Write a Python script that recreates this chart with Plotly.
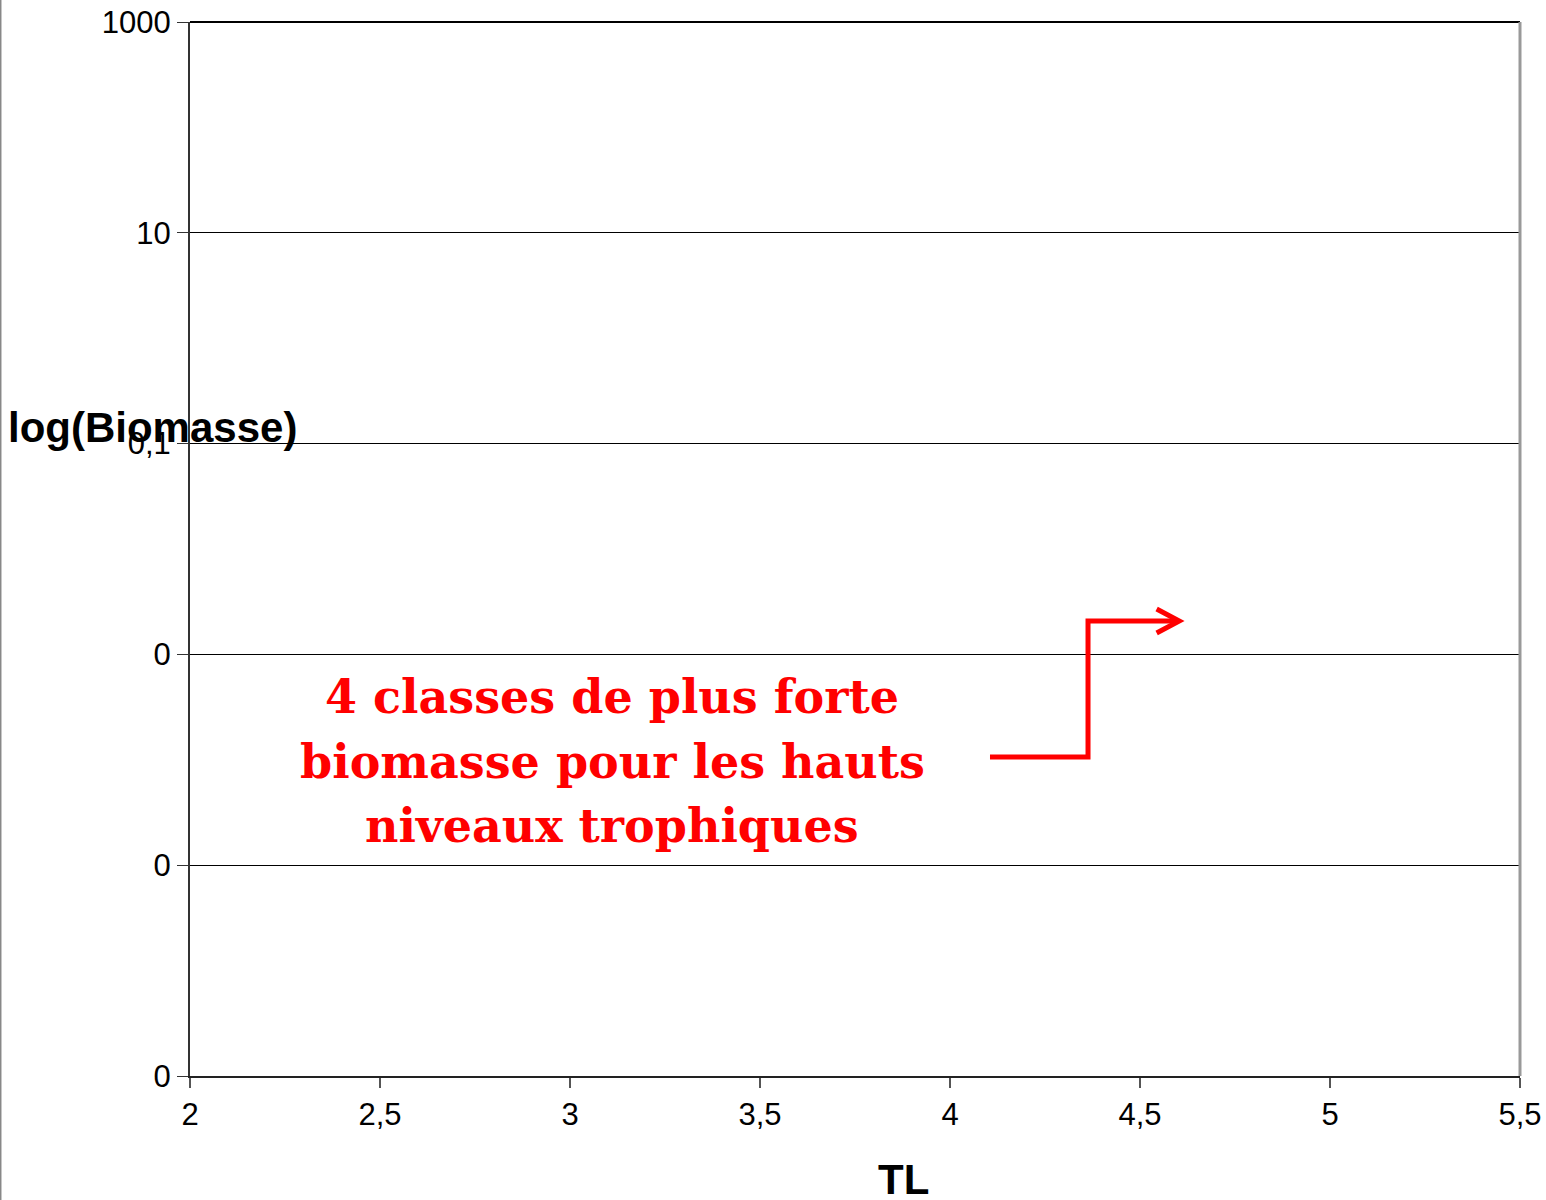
import plotly.graph_objects as go

# Axis ticks (trophic level on x, biomass on a log y axis)
x_tickvals = [2, 2.5, 3, 3.5, 4, 4.5, 5, 5.5]
x_ticktext = ["2", "2,5", "3", "3,5", "4", "4,5", "5", "5,5"]
y_tickvals = [1e3, 1e1, 1e-1, 1e-3, 1e-5, 1e-7]
y_ticktext = ["1000", "10", "0,1", "0", "0", "0"]

x_title = "TL"
y_title = "log(Biomasse)"
note_lines = ["4 classes de plus forte", "biomasse pour les hauts", "niveaux trophiques"]
note_line_y = [0.3596, 0.2982, 0.2372]

RED = "#FF0000"
TICK_FONT = dict(family="Liberation Sans, Arial, sans-serif", size=31, color="#000000")
TITLE_FONT = dict(family="Liberation Sans, Arial, sans-serif", size=42, color="#000000")

fig = go.Figure()
fig.add_trace(go.Scatter(x=[], y=[], mode="markers", showlegend=False, hoverinfo="skip"))

fig.update_layout(
    width=1546,
    height=1200,
    margin=dict(l=190, r=26, t=22, b=124),
    paper_bgcolor="#FFFFFF",
    plot_bgcolor="#FFFFFF",
    showlegend=False,
    xaxis=dict(
        range=[2, 5.5],
        automargin=False,
        tickmode="array",
        tickvals=x_tickvals,
        ticktext=x_ticktext,
        ticks="outside",
        ticklen=10,
        tickwidth=2,
        tickcolor="#555555",
        tickfont=TICK_FONT,
        showline=True,
        linecolor="#222222",
        linewidth=2,
        showgrid=False,
        zeroline=False,
    ),
    yaxis=dict(
        type="log",
        range=[-7, 3],
        automargin=False,
        tickmode="array",
        tickvals=y_tickvals,
        ticktext=y_ticktext,
        ticks="outside",
        ticklen=11,
        tickwidth=1,
        tickcolor="#333333",
        tickfont=TICK_FONT,
        showline=True,
        linecolor="#333333",
        linewidth=2,
        showgrid=True,
        gridcolor="#000000",
        gridwidth=1,
        zeroline=False,
    ),
)

# Top edge (gridline at 1000), right border, and the thin frame on the far left
fig.add_shape(type="line", xref="paper", yref="paper", x0=0, x1=1, y0=1, y1=1,
              line=dict(color="#000000", width=2))
fig.add_shape(type="line", xref="paper", yref="paper", x0=1.0, x1=1.0, y0=0, y1=1,
              line=dict(color="#999999", width=3))
fig.add_shape(type="line", xref="paper", yref="paper", x0=-0.1425, x1=-0.1425, y0=-0.12, y1=1.03,
              line=dict(color="#888888", width=2))

# Stepped red arrow pointing to the upper trophic levels
arrow_path = "M 0.6015 0.3027 L 0.6752 0.3027 L 0.6752 0.4317 L 0.7414 0.4317"
head_path = "M 0.7268 0.4431 L 0.7438 0.4317 L 0.7268 0.4203"
for p in (arrow_path, head_path):
    fig.add_shape(type="path", xref="paper", yref="paper", path=p,
                  line=dict(color=RED, width=5))

# Axis titles
fig.add_annotation(text=f"<b>{y_title}</b>", xref="paper", yref="paper",
                   x=-0.1383, y=0.6157, xanchor="left", yanchor="middle",
                   showarrow=False, font=TITLE_FONT)
fig.add_annotation(text=f"<b>{x_title}</b>", xref="paper", yref="paper",
                   x=0.5361, y=-0.0986, xanchor="center", yanchor="middle",
                   showarrow=False, font=TITLE_FONT)

# Red note, one line per annotation
for line, yy in zip(note_lines, note_line_y):
    fig.add_annotation(text=f"<b>{line}</b>", xref="paper", yref="paper",
                       x=0.3173, y=yy, xanchor="center", yanchor="middle",
                       showarrow=False,
                       font=dict(family="DejaVu Serif, serif", size=46, color=RED))

fig.write_html("out.html")
